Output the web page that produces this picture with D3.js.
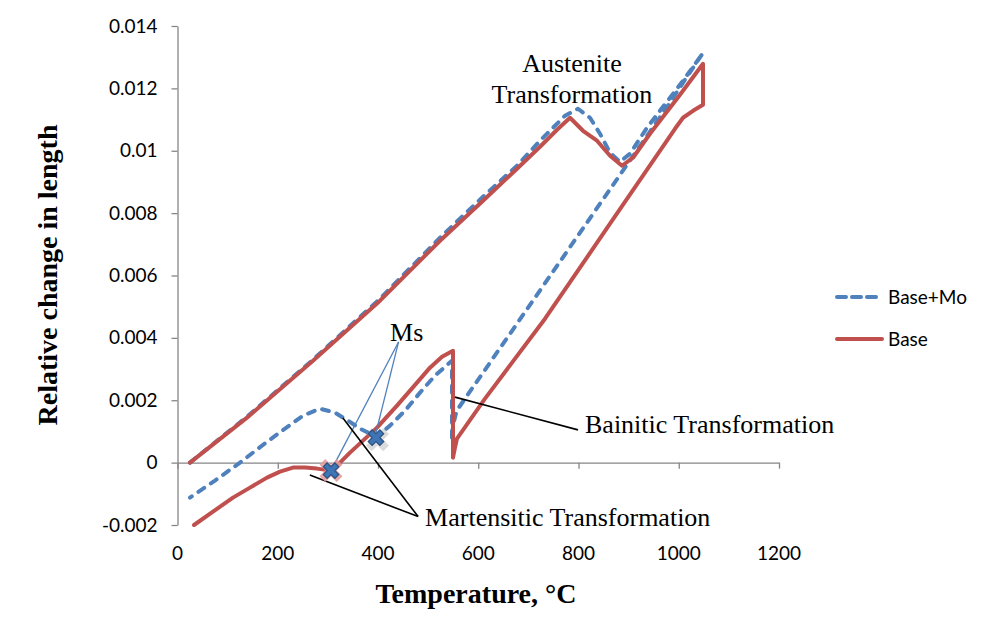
<!DOCTYPE html>
<html>
<head>
<meta charset="utf-8">
<script src="https://cdn.jsdelivr.net/npm/d3@7/dist/d3.min.js"></script>
<style>
  html, body { margin: 0; padding: 0; background: #ffffff; }
  svg { display: block; }
</style>
</head>
<body>
<svg id="chart" width="1001" height="635"></svg>
<script>
// ---------------- DATA ----------------
const seriesNames = ["Base+Mo", "Base"];

// Base (red): heating -> hold 1050 -> cooling -> bainite hold 550 -> cooling
const baseTemp = [24.9,138.7,270.3,404.0,523.7,609.5,677.3,723.2,757.1,783.0,809.0,836.9,862.9,886.8,908.7,942.6,1002.5,1048.4,
  1048.4,1028.4,1008.5,992.5,862.9,733.2,613.5,557.6,553.6,549.6,
  549.6,527.7,503.7,477.8,437.9,398.0,370.1,344.1,324.2,306.2,278.3,254.4,230.4,204.5,178.6,144.6,110.7,70.8,33];
const baseDL = [0,0.001442,0.003269,0.005192,0.007115,0.008397,0.009423,0.010128,0.010673,0.011058,0.010641,0.010321,0.009840,0.009519,0.009776,0.010545,0.011795,0.012788,
  0.011474,0.011282,0.011058,0.010705,0.007660,0.004615,0.002051,0.000769,0.000481,0.000160,
  0.003590,0.003397,0.003045,0.002564,0.001827,0.001122,0.000705,0.000321,0,-0.000256,-0.000192,-0.000160,-0.000160,-0.000288,-0.000481,-0.000801,-0.001122,-0.001571,-0.002];

// Base+Mo (blue dashed)
const moTemp = [24.9,138.7,270.3,404.0,523.7,609.5,677.3,723.2,773.1,799.0,822.9,842.9,862.9,882.8,902.7,936.6,968.6,1008.5,1048.4,
  1012.4,975.9,942.6,876.2,809.6,743.1,676.7,610.1,557.0,549.6,547.6,
  547.6,513.7,483.8,453.9,423.9,396.0,384.0,364.1,340.1,314.2,284.3,250.4,214.5,168.6,124.7,74.8,24.9];
const moDL = [0,0.001474,0.003301,0.005256,0.007212,0.008526,0.009519,0.010321,0.011122,0.011346,0.011058,0.010545,0.009936,0.009647,0.009904,0.010737,0.011410,0.012243,0.013141,
  0.012276,0.011388,0.010612,0.009074,0.007526,0.005984,0.004442,0.002897,0.001667,0.001186,0.000705,
  0.003269,0.002788,0.002244,0.001667,0.001186,0.000801,0.000929,0.001090,0.001346,0.001603,0.001731,0.001506,0.001090,0.000545,0,-0.000577,-0.001122];

// Ms points (Base+Mo, Base)
const msTemp = [396.0, 306.2];
const msDL = [0.000801, -0.000256];

const xTicks = [0,200,400,600,800,1000,1200];
const xTickLabels = ["0","200","400","600","800","1000","1200"];
const yTicks = [0.014,0.012,0.01,0.008,0.006,0.004,0.002,0,-0.002];
const yTickLabels = ["0.014","0.012","0.01","0.008","0.006","0.004","0.002","0","-0.002"];

// ---------------- CHART ----------------
const svg = d3.select("#chart");
const blue = "#4F81BD", red = "#C0504D", axisCol = "#868686";

const x = d3.scaleLinear().domain([0,1200]).range([177.5,779]);
const y = d3.scaleLinear().domain([-0.002,0.014]).range([525,26]);

svg.append("rect").attr("width",1001).attr("height",635).attr("fill","#fff");

// Y axis
const yAxis = svg.append("g").attr("transform",`translate(${x(0)},0)`)
  .call(d3.axisLeft(y).tickValues(yTicks).tickFormat((d,i)=>yTickLabels[i]).tickSize(6).tickPadding(14).tickSizeOuter(0));
yAxis.select(".domain").attr("stroke",axisCol).attr("stroke-width",1.3);
yAxis.selectAll(".tick line").attr("stroke",axisCol).attr("stroke-width",1.3);
yAxis.selectAll("text").attr("font-family","Lato, 'Open Sans', sans-serif").attr("font-size",19).attr("fill","#000");

// X axis at y=0
const xAxis = svg.append("g").attr("transform",`translate(0,${y(0)})`)
  .call(d3.axisBottom(x).tickValues(xTicks).tickFormat("").tickSize(6).tickSizeOuter(0));
xAxis.select(".domain").attr("stroke",axisCol).attr("stroke-width",1.3);
xAxis.selectAll(".tick line").attr("stroke",axisCol).attr("stroke-width",1.3);

// X tick labels at bottom (low position)
svg.append("g").selectAll("text").data(xTicks).join("text")
  .attr("x",d=>x(d)).attr("y",560)
  .attr("text-anchor","middle")
  .attr("font-family","Lato, 'Open Sans', sans-serif").attr("font-size",19)
  .text((d,i)=>xTickLabels[i]);

// Axis titles
svg.append("text").attr("x",476).attr("y",603).attr("text-anchor","middle")
  .attr("font-family","'Liberation Serif','Times New Roman',serif").attr("font-weight","bold").attr("font-size",28)
  .text("Temperature, °C");
svg.append("text").attr("transform","translate(57,275) rotate(-90)").attr("text-anchor","middle")
  .attr("font-family","'Liberation Serif','Times New Roman',serif").attr("font-weight","bold").attr("font-size",28)
  .text("Relative change in length");

// Lines
const line = d3.line().x(d=>x(d[0])).y(d=>y(d[1]));
const moPts = moTemp.map((t,i)=>[t,moDL[i]]);
const basePts = baseTemp.map((t,i)=>[t,baseDL[i]]);

svg.append("path").attr("d",line(moPts)).attr("fill","none").attr("stroke",blue)
  .attr("stroke-width",4).attr("stroke-dasharray","7,8").attr("stroke-linecap","round").attr("stroke-linejoin","round");
svg.append("path").attr("d",line(basePts)).attr("fill","none").attr("stroke",red)
  .attr("stroke-width",4).attr("stroke-linejoin","round").attr("stroke-linecap","round");

// Annotations (anchored in data coordinates)
const serif = "'Liberation Serif','Times New Roman',serif";
const annSize = 26;
// Ms
const msLabel = [424, 0.0039];
const msLineStart = [441, 0.00387];
svg.append("g").selectAll("line").data(msTemp).join("line")
  .attr("x1",x(msLineStart[0])).attr("y1",y(msLineStart[1]))
  .attr("x2",(d)=>x(d)).attr("y2",(d,i)=>y(msDL[i]) - (i===0?5:0))
  .attr("stroke",blue).attr("stroke-width",1.3);
svg.append("text").attr("x",x(msLabel[0])).attr("y",y(msLabel[1]))
  .attr("font-family",serif).attr("font-size",annSize).text("Ms");

// Martensitic
const martText = [494, -0.00203];
const martJoin = [480, -0.00173];
const martEnds = [[264,-0.0004],[330,0.00143]];
svg.append("g").selectAll("line").data(martEnds).join("line")
  .attr("x1",x(martJoin[0])).attr("y1",y(martJoin[1]))
  .attr("x2",d=>x(d[0])).attr("y2",d=>y(d[1]))
  .attr("stroke","#000").attr("stroke-width",1.6);
svg.append("text").attr("x",x(martText[0])).attr("y",y(martText[1]))
  .attr("font-family",serif).attr("font-size",annSize).text("Martensitic Transformation");

// Bainitic
const bainStart = [553.6, 0.0021], bainEnd = [799, 0.00105], bainText = [813, 0.00095];
svg.append("line").attr("x1",x(bainStart[0])).attr("y1",y(bainStart[1]))
  .attr("x2",x(bainEnd[0])).attr("y2",y(bainEnd[1])).attr("stroke","#000").attr("stroke-width",1.6);
svg.append("text").attr("x",x(bainText[0])).attr("y",y(bainText[1]))
  .attr("font-family",serif).attr("font-size",annSize).text("Bainitic Transformation");

// Austenite
const ausText = [787, 0.01252, 0.01153];
svg.append("text").attr("x",x(ausText[0])).attr("y",y(ausText[1])).attr("text-anchor","middle")
  .attr("font-family",serif).attr("font-size",annSize).text("Austenite");
svg.append("text").attr("x",x(ausText[0])).attr("y",y(ausText[2])).attr("text-anchor","middle")
  .attr("font-family",serif).attr("font-size",annSize).text("Transformation");

// Ms markers (X)
const xSym = d3.symbol().type(d3.symbolCross).size(150);
const xSymBig = d3.symbol().type(d3.symbolCross).size(330);
const mk = svg.append("g");
msTemp.forEach((t,i)=>{
  const cx = x(t), cy = y(msDL[i]);
  if (i===1) {
    mk.append("path").attr("d",xSymBig()).attr("transform",`translate(${cx},${cy}) rotate(45)`)
      .attr("fill","#e39a98").attr("opacity",0.85);
  } else {
    mk.append("path").attr("d",xSymBig()).attr("transform",`translate(${cx+1.5},${cy+2}) rotate(45)`)
      .attr("fill","#999").attr("opacity",0.35);
  }
  mk.append("path").attr("d",xSym()).attr("transform",`translate(${cx},${cy}) rotate(45)`)
    .attr("fill","#3f74b5").attr("stroke","#2a5283").attr("stroke-width",1.2);
});

// Legend
const legY = [297, 339];
const lg = svg.append("g");
seriesNames.forEach((n,i)=>{
  const l = lg.append("line").attr("x1",837).attr("x2",882).attr("y1",legY[i]).attr("y2",legY[i])
    .attr("stroke", i===0?blue:red).attr("stroke-width",4).attr("stroke-linecap","round");
  if (i===0) l.attr("stroke-dasharray","9,6");
  lg.append("text").attr("x",888).attr("y",legY[i]).attr("dy","0.35em")
    .attr("font-family","Lato, 'Open Sans', sans-serif").attr("font-size",19).text(n);
});
</script>
</body>
</html>
